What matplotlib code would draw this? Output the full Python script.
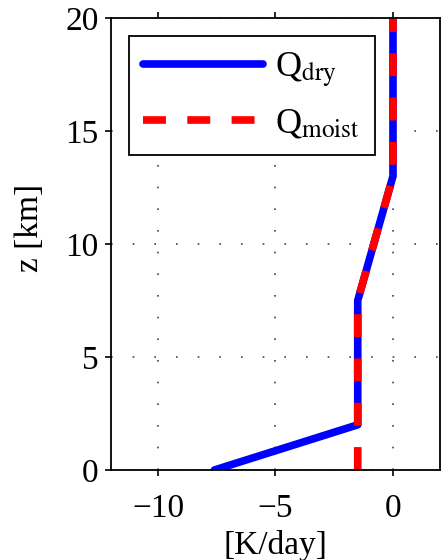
"""Idealized radiative cooling profiles: dry vs moist."""

import matplotlib
matplotlib.use("Agg")
import matplotlib.pyplot as plt

# profile vertices (height in km, heating rate in K/day)
z_dry = [0, 2, 7.5, 13, 20]
q_dry = [-7.6, -1.5, -1.5, 0, 0]

z_moist = [0, 2, 7.5, 13, 20]
q_moist = [-1.5, -1.5, -1.5, 0, 0]

xticks = [-10, -5, 0]
yticks = [0, 5, 10, 15, 20]

plt.rcParams["font.family"] = ["Liberation Serif", "DejaVu Serif"]
plt.rcParams["mathtext.fontset"] = "stix"

fig = plt.figure(figsize=(4.41, 5.6), dpi=100)
ax = fig.add_axes([0.2517, 0.1607, 0.746, 0.8073])

ax.plot(q_dry, z_dry, color="#0000ff", lw=5.5, solid_capstyle="round",
        solid_joinstyle="round", label=r"Q$_{\rm dry}$")
ax.plot(q_moist, z_moist, color="#ff0000", lw=5.5, ls=(0, (3.0, 2.8)),
        dash_capstyle="butt", label=r"Q$_{\rm moist}$")

ax.set_xlim(-12, 2)
ax.set_ylim(0, 20)
ax.set_xticks(xticks)
ax.set_yticks(yticks)
ax.set_xticklabels(["\u2212" + str(abs(t)) if t < 0 else str(t) for t in xticks])
ax.tick_params(labelsize=24, direction="out", length=4, width=1.2,
               top=True, right=False)
ax.tick_params(axis="x", pad=13)
ax.tick_params(axis="y", pad=5)
ax.grid(True, ls=(0, (1, 12)), color="#444444", lw=1.2)
for s in ax.spines.values():
    s.set_linewidth(1.3)

ax.set_xlabel("[K/day]", fontsize=24, labelpad=4)
ax.set_ylabel("z [km]", fontsize=24)
ax.yaxis.set_label_coords(-0.2, 0.535)

leg = ax.legend(loc="upper left", fontsize=26, handlelength=3.3,
                borderaxespad=0.5, fancybox=False, framealpha=1,
                edgecolor="black", handletextpad=0.35, labelspacing=0.5,
                borderpad=0.4)
leg.get_frame().set_linewidth(1.3)

fig.savefig("out.png", dpi=100)
